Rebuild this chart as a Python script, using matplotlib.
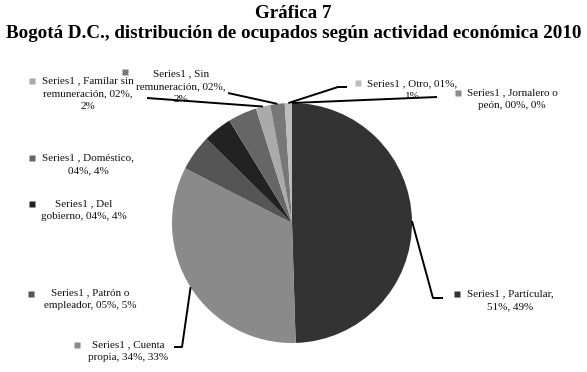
import numpy as np
import matplotlib.pyplot as plt

# Data
categories = ['Particular', 'Cuenta propia', 'Patrón o empleador', 'Del gobierno',
              'Doméstico', 'Familar sin remuneración', 'Sin remuneración', 'Otro',
              'Jornalero o peón']
values = [51, 34, 5, 4, 4, 2, 2, 1, 0]
shares = [49, 33, 5, 4, 4, 2, 2, 1, 0]
label_texts = [
    'Series1 , Partícular,\n51%, 49%',
    'Series1 , Cuenta\npropia, 34%, 33%',
    'Series1 , Patrón o\nempleador, 05%, 5%',
    'Series1 , Del\ngobierno, 04%, 4%',
    'Series1 , Doméstico,\n04%, 4%',
    'Series1 , Familar sin\nremuneración, 02%,\n2%',
    'Series1 , Sin\nremuneración, 02%,\n2%',
    'Series1 , Otro, 01%,\n1%',
    'Series1 , Jornalero o\npeón, 00%, 0%',
]
colors = ['#333333', '#8a8a8a', '#555555', '#222222', '#666666',
          '#aaaaaa', '#777777', '#bdbdbd', '#8a8a8a']

W, H = 587, 372
cx, cy, R = 292, 223, 120  # pie centre / radius in pixels

# label layout (pixels): text centre x, first line y, square x, square y
label_pos = [
    (510, 294, 457, 294),
    (128, 345, 77, 345),
    (90, 293, 31, 294),
    (84, 204, 32, 204),
    (88, 158, 32, 158),
    (88, 81, 32, 81),
    (181, 74, 125, 72),
    (412, 84, 358, 83),
    (512, 93, 458, 93),
]
# leader line paths (after the start point on the wedge edge)
leaders = {
    0: [(433, 298), (443, 298)],
    1: [(182, 347), (174, 347)],
    5: [(147, 98)],
    6: [(228, 93)],
    7: [(338, 87), (347, 87)],
    8: [(437, 97)],
}

plt.rcParams['font.family'] = ['Liberation Serif', 'DejaVu Serif']

fig = plt.figure(figsize=(W / 100, H / 100), dpi=100)
fig.patch.set_facecolor('white')

ax = fig.add_axes([(cx - R) / W, (H - cy - R) / H, 2 * R / W, 2 * R / H])
ax.pie(values, colors=colors, startangle=90, counterclock=False,
       radius=1, wedgeprops=dict(linewidth=0))
ax.set_xlim(-1, 1)
ax.set_ylim(-1, 1)
ax.axis('off')

ov = fig.add_axes([0, 0, 1, 1], zorder=5)
ov.set_xlim(0, W)
ov.set_ylim(H, 0)
ov.axis('off')
ov.patch.set_alpha(0)

# mid angles of each wedge
total = sum(values)
theta = 90.0
mids = []
for v in values:
    span = 360.0 * v / total
    mids.append(theta - span / 2)
    theta -= span

for i, pts in leaders.items():
    a = np.deg2rad(mids[i])
    sx, sy = cx + R * np.cos(a), cy - R * np.sin(a)
    xs = [sx] + [p[0] for p in pts]
    ys = [sy] + [p[1] for p in pts]
    ov.plot(xs, ys, color='black', lw=1.4, solid_capstyle='butt')

for i, txt in enumerate(label_texts):
    tx, ty, qx, qy = label_pos[i]
    ov.plot([qx], [qy], marker='s', ms=5, color=colors[i], mec='none')
    ov.text(tx, ty - 5, txt, ha='center', va='top', fontsize=8,
            linespacing=1.55, color='#111111')

fig.text(0.5, 1 - 13 / H, 'Gráfica 7', ha='center', va='center',
         fontsize=13.7, fontweight='bold')
fig.text(0.5, 1 - 33 / H, 'Bogotá D.C., distribución de ocupados según actividad económica 2010',
         ha='center', va='center', fontsize=13.7, fontweight='bold')

fig.savefig('out.png', dpi=100)
